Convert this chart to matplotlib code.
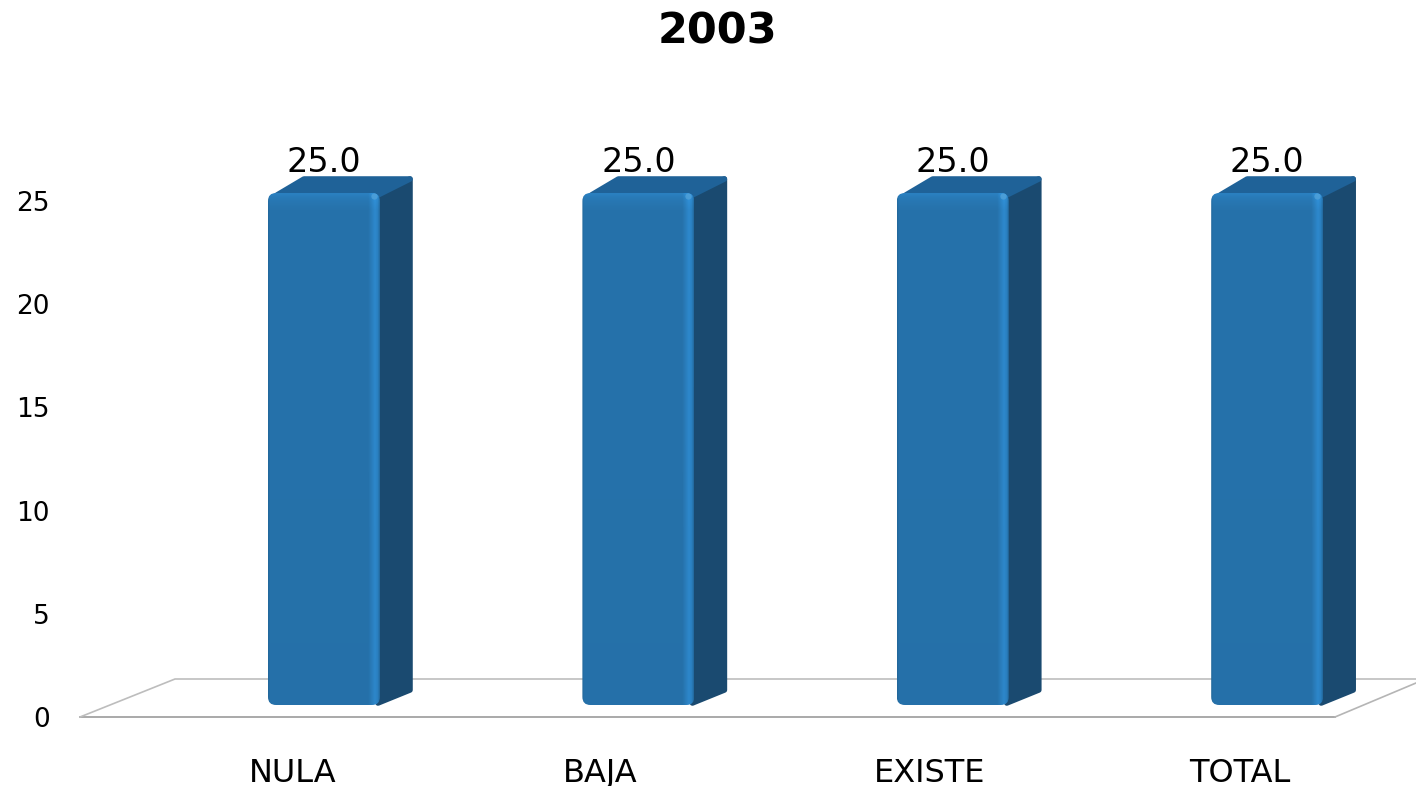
import numpy as np
import matplotlib
matplotlib.use("Agg")
import matplotlib.pyplot as plt
from matplotlib.patches import FancyBboxPatch, Polygon
from matplotlib.transforms import Affine2D

categories = ['NULA', 'BAJA', 'EXISTE', 'TOTAL']
values = [25.0, 25.0, 25.0, 25.0]
y_ticks = [0, 5, 10, 15, 20, 25]
title = '2003'

W, H = 1416, 786
BASE, TOP = 705, 193       # bar foot and head in image pixels
X0, STEP = 324, 314.4      # first bar centre, bar spacing
BAR_W = 112
# the slide has its category labels sitting left of the bars
label_shift = [-31, -38, -23, -27]

fig = plt.figure(figsize=(W / 100, H / 100), dpi=100, facecolor='white')

# main axes: y runs 0..25 between bar foot and head, x is the category index
ax = fig.add_axes([0, (H - BASE) / H, 1, (BASE - TOP) / H])
ax.set_xlim(-X0 / STEP, (W - X0) / STEP)
ax.set_ylim(0, 25)
ax.patch.set_alpha(0)
for s in ax.spines.values():
    s.set_visible(False)
ax.set_yticks([])

ux = 1 / STEP                  # one pixel in x data units
uy = 25 / (BASE - TOP)         # one pixel in y data units

# floor of the 3d chart, in image pixels
px = Affine2D().scale(1, -1).translate(0, H)
ax.plot([80, 1335], [717, 717], color='#a3a3a3', lw=1.3, transform=px, clip_on=False, zorder=1)
ax.plot([80, 175, 1416], [717, 679, 679], color='#bdbdbd', lw=1.2, transform=px, clip_on=False, zorder=1)
ax.plot([1335, 1416], [717, 683], color='#b5b5b5', lw=1.2, transform=px, clip_on=False, zorder=1)

# front face shading: light strip near right edge, brighter head
cols = np.interp(np.linspace(0, 1, 113),
                 [0, 0.015, 0.06, 0.9, 0.96, 0.985, 1],
                 [0.92, 1.0, 1.0, 1.0, 1.2, 1.12, 0.95])
rows = np.interp(np.linspace(0, 1, 200), [0, 0.008, 0.03, 1], [1.12, 1.06, 1.0, 0.99])
base_col = np.array([0x26, 0x72, 0xAB]) / 255
shade = np.clip(base_col[None, None, :] * (rows[:, None] * cols[None, :])[:, :, None], 0, 1)

hw = BAR_W / 2 * ux
dx = 33 * ux
for i, v in enumerate(values):
    # side face, inset a little so the thick round edge gives soft corners
    side = Polygon([(i + hw - 2 * ux, 2 * uy), (i + hw + dx - 3 * ux, 15 * uy),
                    (i + hw + dx - 3 * ux, v + 14 * uy), (i + hw - 2 * ux, v)],
                   closed=True, fc='#1A4A70', ec='#1A4A70', lw=4, joinstyle='round', zorder=2, clip_on=False)
    ax.add_patch(side)
    # top face
    top = Polygon([(i - hw + 9 * ux, v - 2 * uy), (i - hw + dx + 3 * ux, v + 14 * uy),
                   (i + hw + dx - 3 * ux, v + 14 * uy), (i + hw - 2 * ux, v - 2 * uy)],
                  closed=True, fc='#1F6298', ec='#1F6298', lw=4, joinstyle='round', zorder=3, clip_on=False)
    ax.add_patch(top)
    # front face, rounded and gradient filled
    box = FancyBboxPatch((i - hw, 0), 2 * hw, v, boxstyle=f'round,pad=0,rounding_size={8 * ux}',
                         mutation_aspect=uy / ux, fc='none', ec='none', zorder=4, clip_on=False)
    ax.add_patch(box)
    im = ax.imshow(shade, extent=(i - hw, i + hw, 0, v), origin='upper', aspect='auto', zorder=4, interpolation='bilinear')
    im.set_clip_path(box)
    # small highlight on the head corner
    ax.plot([i + hw - 6 * ux], [v - 3 * uy], 'o', ms=4.5, color='#4FA0D8', alpha=0.85, mec='none', zorder=5)
    ax.annotate(f'{v:.1f}', (i, v), xytext=(0, 21.6), textcoords='offset points',
                ha='center', va='center', fontsize=24, color='black', zorder=6,
                family='DejaVu Sans')

ax.set_xlim(-X0 / STEP, (W - X0) / STEP)
ax.set_ylim(0, 25)

ax.set_xticks([i + s * ux for i, s in enumerate(label_shift)])
ax.set_xticklabels(categories, fontsize=23, color='black')
ax.tick_params(axis='x', length=0, pad=38)

# value axis sits on the floor line, so it gets its own scale
ax_y = fig.add_axes([50 / W, (H - 717) / H, 10 / W, (717 - 201) / H])
ax_y.set_ylim(0, 25)
ax_y.set_xticks([])
ax_y.set_yticks(y_ticks)
ax_y.tick_params(axis='y', length=0, pad=0, labelsize=19)
ax_y.patch.set_alpha(0)
for s in ax_y.spines.values():
    s.set_visible(False)

fig.text(717 / W, 1 - 31 / H, title, fontsize=31, fontweight='bold', ha='center', va='center', color='black')

fig.savefig('out.png', dpi=100)
